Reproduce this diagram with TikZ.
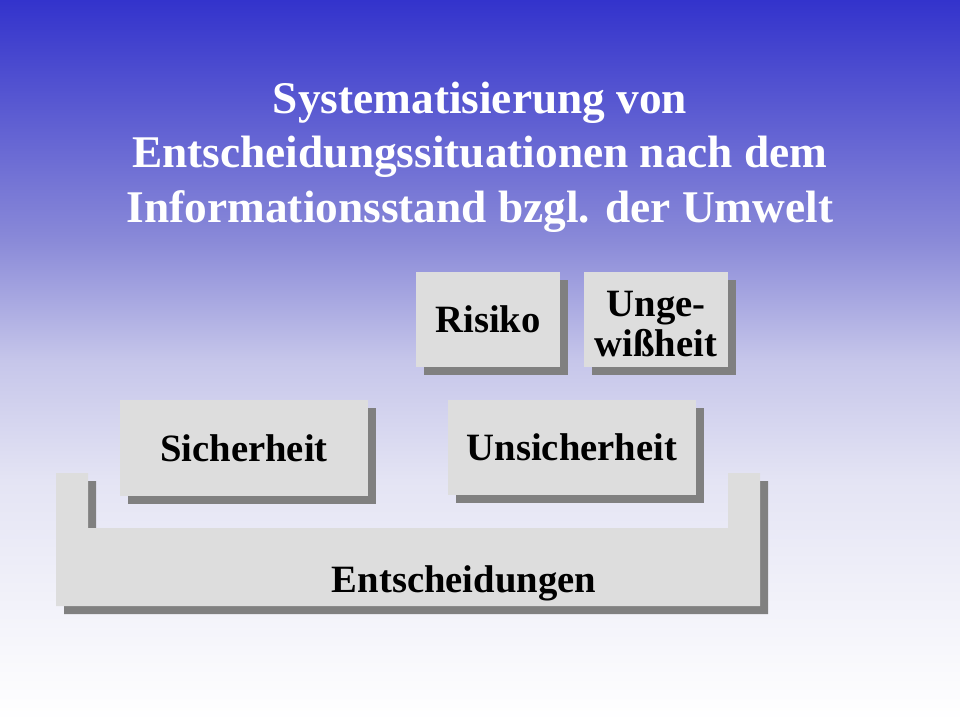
\documentclass[tikz,border=0pt]{standalone}
\usepackage{fontspec}
\setmainfont{Liberation Serif}
\usetikzlibrary{shadows}

\definecolor{topblue}{HTML}{3333CC}
\definecolor{fadeA}{HTML}{8A8AD8}
\definecolor{fadeB}{HTML}{C6C6EA}
\definecolor{fadeC}{HTML}{E4E4F4}
\definecolor{boxgray}{HTML}{DDDDDD}
\definecolor{shadowgray}{HTML}{808080}

\begin{document}
\begin{tikzpicture}[x=0.75pt,y=-0.75pt]

	\tikzstyle shadowed=[drop shadow={shadow xshift=6pt,shadow yshift=-6pt,fill=shadowgray,opacity=1}];
	\tikzstyle box font=[font=\fontsize{29}{30}\selectfont\bfseries, align=center];
	\tikzstyle box=[shadowed, box font, fill=boxgray, inner sep=0pt, minimum height=71.5pt];
	\tikzstyle title text=[white, align=center, font=\fontsize{34}{41}\selectfont\bfseries];

	\useasboundingbox (0,0) rectangle (960,720);
	% background fading from blue to white
	\foreach \ya/\yb/\ca/\cb in {0/240/topblue/fadeA,240/360/fadeA/fadeB,360/480/fadeB/fadeC,480/720/fadeC/white}
		\shade[top color=\ca, bottom color=\cb] (0,\ya) rectangle (960,\yb+1);

	\node[title text] (title) at (480,157) {Systematisierung von\\Entscheidungssituationen nach dem\\Informationsstand bzgl. der Umwelt};

	% Entscheidungen
	\fill[boxgray, shadowed] (56,473) -- (88,473) -- (88,528) -- (728,528) -- (728,473) -- (760,473) -- (760,606) -- (56,606) -- cycle;
	\node[box font] (entsch) at (464,583) {Entscheidungen};

		\foreach \name/\x/\y/\w/\label in {sicher/244/448/186/Sicherheit,unsicher/572/447.5/186/Unsicherheit,risiko/488/319.5/108/Risiko,ungewiss/656/319.5/108/{}}
			\node[box, minimum width=\w pt] (\name) at (\x,\y) {\label};

		\node[box font] (ungewiss text) at ([yshift=-3.75pt]ungewiss.center) {Unge-\\wißheit};

\end{tikzpicture}
\end{document}
